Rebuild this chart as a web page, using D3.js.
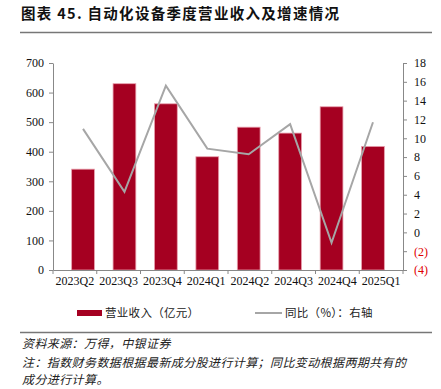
<!DOCTYPE html>
<html>
<head>
<meta charset="utf-8">
<script src="https://cdn.jsdelivr.net/npm/d3@7"></script>
<style>
  body { margin: 0; background: #fff; }
  svg { display: block; }
</style>
</head>
<body>
<div id="chart"></div>
<script>
const quarters = ["2023Q2", "2023Q3", "2023Q4", "2024Q1", "2024Q2", "2024Q3", "2024Q4", "2025Q1"];
const revenue = [341, 630, 562, 383, 483, 463, 552, 418];
const yoy = [11.0, 4.3, 15.6, 8.9, 8.3, 11.5, -1.1, 11.7];
const leftTicks = [0, 100, 200, 300, 400, 500, 600, 700];
const rightTicks = [-4, -2, 0, 2, 4, 6, 8, 10, 12, 14, 16, 18];

const W = 441, H = 389;
const plot = { left: 53, right: 403, top: 63, bottom: 270 };
const serif = "'Liberation Serif', 'Times New Roman', serif";
const cjk = "'Noto Sans CJK SC', sans-serif";

const svg = d3.select("#chart").append("svg")
  .attr("width", W).attr("height", H);

// title
svg.append("text")
  .attr("x", 21).attr("y", 19)
  .style("font-family", cjk)
  .style("font-size", "14.5px")
  .style("font-weight", "bold")
  .style("letter-spacing", "1.3px")
  .attr("fill", "#111")
  .text("图表 45. 自动化设备季度营业收入及增速情况");

svg.append("line")
  .attr("x1", 20).attr("x2", 432)
  .attr("y1", 32.5).attr("y2", 32.5)
  .attr("stroke", "#777").attr("stroke-width", 1.5);

const x = d3.scaleBand()
  .domain(quarters)
  .range([plot.left, plot.right])
  .padding(0.45);

const y = d3.scaleLinear().domain([0, 700]).range([plot.bottom, plot.top]);
const y2 = d3.scaleLinear().domain([-4, 18]).range([plot.bottom, plot.top]);

// bars
svg.selectAll(".bar")
  .data(revenue)
  .enter()
  .append("rect")
  .attr("x", (d, i) => x(quarters[i]))
  .attr("y", d => y(d))
  .attr("width", x.bandwidth())
  .attr("height", d => plot.bottom - y(d))
  .attr("fill", "#A50021")
  .attr("stroke", "#E8A0AE")
  .attr("stroke-width", 0.8);

// line
const line = d3.line()
  .x((d, i) => x(quarters[i]) + x.bandwidth() / 2)
  .y(d => y2(d));

svg.append("path")
  .datum(yoy)
  .attr("d", line)
  .attr("fill", "none")
  .attr("stroke", "#A6A6A6")
  .attr("stroke-width", 2);

// axes
function styleAxis(g) {
  g.select(".domain").attr("stroke", "#888");
  g.selectAll(".tick line").attr("stroke", "#888");
  g.selectAll(".tick text")
    .style("font-family", serif)
    .style("font-size", "12px")
    .attr("fill", "#111");
}

svg.append("g")
  .attr("transform", `translate(${plot.left},0)`)
  .call(d3.axisLeft(y).tickValues(leftTicks).tickSize(4).tickSizeOuter(0).tickPadding(5))
  .call(styleAxis);

const yr = svg.append("g")
  .attr("transform", `translate(${plot.right},0)`)
  .call(d3.axisRight(y2).tickValues(rightTicks).tickSize(4).tickSizeOuter(0).tickPadding(7)
    .tickFormat(d => d < 0 ? `(${-d})` : d))
  .call(styleAxis);
yr.selectAll(".tick text").attr("fill", d => d < 0 ? "#E00000" : "#111");

const xBand = d3.scaleBand().domain(quarters).range([plot.left, plot.right]);
svg.append("g")
  .attr("transform", `translate(0,${plot.bottom})`)
  .call(d3.axisBottom(xBand).tickSize(0).tickSizeOuter(0).tickPadding(6))
  .call(styleAxis);

// tick marks at band boundaries
const edges = quarters.map(q => xBand(q)).concat([plot.right]);
svg.append("g")
  .selectAll("line")
  .data(edges)
  .enter()
  .append("line")
  .attr("x1", d => d).attr("x2", d => d)
  .attr("y1", plot.bottom).attr("y2", plot.bottom + 4)
  .attr("stroke", "#888");

// legend
const lg = svg.append("g").attr("transform", "translate(0,313)");
lg.append("rect")
  .attr("x", 77).attr("y", -3).attr("width", 25).attr("height", 6)
  .attr("fill", "#A50021");
lg.append("text")
  .attr("x", 105).attr("y", 4)
  .style("font-family", cjk).style("font-size", "11.5px")
  .style("letter-spacing", "0.3px")
  .attr("fill", "#222")
  .text("营业收入（亿元）");
lg.append("line")
  .attr("x1", 255).attr("x2", 282).attr("y1", 0).attr("y2", 0)
  .attr("stroke", "#A6A6A6").attr("stroke-width", 2);
lg.append("text")
  .attr("x", 285).attr("y", 4)
  .style("font-family", cjk).style("font-size", "11.5px")
  .style("letter-spacing", "0.3px")
  .attr("fill", "#222")
  .text("同比（%）：右轴");

svg.append("line")
  .attr("x1", 20).attr("x2", 432)
  .attr("y1", 332.5).attr("y2", 332.5)
  .attr("stroke", "#777").attr("stroke-width", 1.5);

// source and notes
const notes = [
  ["资料来源：万得，中银证券", 348],
  ["注：指数财务数据根据最新成分股进行计算；同比变动根据两期共有的", 367],
  ["成分进行计算。", 384]
];
svg.selectAll(".note")
  .data(notes)
  .enter()
  .append("text")
  .attr("x", 22).attr("y", d => d[1])
  .style("font-family", cjk).style("font-size", "12px")
  .style("letter-spacing", "0.4px")
  .style("font-style", "italic")
  .attr("fill", "#222")
  .text(d => d[0]);
</script>
</body>
</html>
